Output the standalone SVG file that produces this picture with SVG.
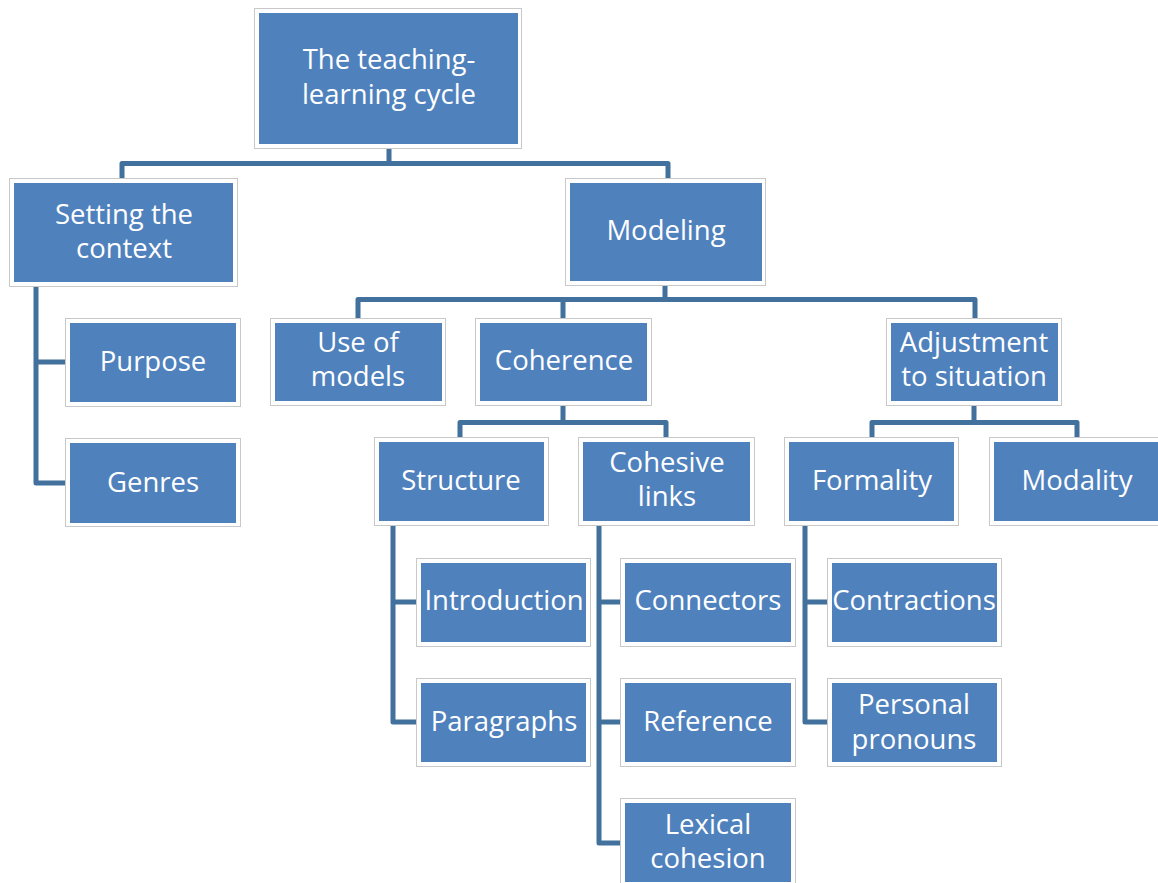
<svg xmlns="http://www.w3.org/2000/svg" width="1158" height="883" viewBox="0 0 1158 883">
  <style>
    .frame { fill: #ffffff; stroke: #c8c8c8; stroke-width: 1; }
    .fill { fill: #4f81bd; }
    .label { font-family: "Open Sans", "Noto Sans", sans-serif; font-size: 27.5px; fill: #ffffff; text-anchor: middle; }
    .link { fill: none; stroke: #41719c; stroke-width: 5; stroke-linejoin: round; }
  </style>
  <rect width="1158" height="883" fill="#ffffff"/>

  <!-- connectors -->
  <g id="connectors">
    <path class="link" d="M389 148 V163.5 H122 V178 M389 163.5 H668 V178"/>
    <path class="link" d="M36 287 V483 H66 M36 362 H66"/>
    <path class="link" d="M665 285 V299.5 H358 V318 M665 299.5 H975 V318 M563 299.5 V318"/>
    <path class="link" d="M563 405 V422.5 H460 V437 M563 422.5 H666 V437"/>
    <path class="link" d="M974 405 V422.5 H872 V437 M974 422.5 H1077 V437"/>
    <path class="link" d="M393 525 V722 H417 M393 602 H417"/>
    <path class="link" d="M599 525 V843 H621 M599 602 H621 M599 722 H621"/>
    <path class="link" d="M805 525 V722 H828 M805 602 H828"/>
  </g>

  <g id="node-root">
    <rect class="frame" x="254.5" y="8.5" width="267" height="140"/>
    <rect class="fill" x="259" y="13" width="259" height="131"/>
    <text class="label" x="389" y="69">The teaching-</text>
    <text class="label" x="389" y="104">learning cycle</text>
  </g>

  <g id="node-setting-context">
    <rect class="frame" x="9.5" y="178.5" width="228" height="108"/>
    <rect class="fill" x="14" y="183" width="219" height="99"/>
    <text class="label" x="124" y="224">Setting the</text>
    <text class="label" x="124" y="258">context</text>
  </g>

  <g id="node-modeling">
    <rect class="frame" x="565.5" y="178.5" width="200" height="107"/>
    <rect class="fill" x="570" y="183" width="192" height="98"/>
    <text class="label" x="666" y="240">Modeling</text>
  </g>

  <g id="node-purpose">
    <rect class="frame" x="65.5" y="318.5" width="175" height="88"/>
    <rect class="fill" x="70" y="323" width="166" height="79"/>
    <text class="label" x="153" y="371">Purpose</text>
  </g>

  <g id="node-genres">
    <rect class="frame" x="65.5" y="438.5" width="175" height="88"/>
    <rect class="fill" x="70" y="443" width="166" height="80"/>
    <text class="label" x="153" y="492">Genres</text>
  </g>

  <g id="node-use-of-models">
    <rect class="frame" x="270.5" y="318.5" width="175" height="87"/>
    <rect class="fill" x="275" y="323" width="167" height="78"/>
    <text class="label" x="358" y="352">Use of</text>
    <text class="label" x="358" y="386">models</text>
  </g>

  <g id="node-coherence">
    <rect class="frame" x="475.5" y="318.5" width="176" height="87"/>
    <rect class="fill" x="480" y="323" width="167" height="78"/>
    <text class="label" x="564" y="370">Coherence</text>
  </g>

  <g id="node-adjustment">
    <rect class="frame" x="886.5" y="318.5" width="175" height="87"/>
    <rect class="fill" x="891" y="323" width="167" height="78"/>
    <text class="label" x="974" y="352">Adjustment</text>
    <text class="label" x="974" y="386">to situation</text>
  </g>

  <g id="node-structure">
    <rect class="frame" x="374.5" y="437.5" width="174" height="88"/>
    <rect class="fill" x="379" y="442" width="165" height="79"/>
    <text class="label" x="461" y="490">Structure</text>
  </g>

  <g id="node-cohesive-links">
    <rect class="frame" x="578.5" y="437.5" width="176" height="88"/>
    <rect class="fill" x="583" y="442" width="167" height="79"/>
    <text class="label" x="667" y="472">Cohesive</text>
    <text class="label" x="667" y="506">links</text>
  </g>

  <g id="node-formality">
    <rect class="frame" x="784.5" y="437.5" width="174" height="88"/>
    <rect class="fill" x="789" y="442" width="165" height="79"/>
    <text class="label" x="872" y="490">Formality</text>
  </g>

  <g id="node-modality">
    <rect class="frame" x="989.5" y="437.5" width="175" height="88"/>
    <rect class="fill" x="994" y="442" width="166" height="79"/>
    <text class="label" x="1077" y="490">Modality</text>
  </g>

  <g id="node-introduction">
    <rect class="frame" x="416.5" y="558.5" width="174" height="88"/>
    <rect class="fill" x="421" y="563" width="165" height="79"/>
    <text class="label" x="504" y="610">Introduction</text>
  </g>

  <g id="node-paragraphs">
    <rect class="frame" x="416.5" y="678.5" width="174" height="88"/>
    <rect class="fill" x="421" y="683" width="165" height="79"/>
    <text class="label" x="504" y="731">Paragraphs</text>
  </g>

  <g id="node-connectors">
    <rect class="frame" x="620.5" y="558.5" width="175" height="88"/>
    <rect class="fill" x="625" y="563" width="166" height="79"/>
    <text class="label" x="708" y="610">Connectors</text>
  </g>

  <g id="node-reference">
    <rect class="frame" x="620.5" y="678.5" width="175" height="88"/>
    <rect class="fill" x="625" y="683" width="166" height="79"/>
    <text class="label" x="708" y="731">Reference</text>
  </g>

  <g id="node-lexical-cohesion">
    <rect class="frame" x="620.5" y="798.5" width="175" height="88"/>
    <rect class="fill" x="625" y="803" width="166" height="79"/>
    <text class="label" x="708" y="834">Lexical</text>
    <text class="label" x="708" y="868">cohesion</text>
  </g>

  <g id="node-contractions">
    <rect class="frame" x="827.5" y="558.5" width="174" height="88"/>
    <rect class="fill" x="832" y="563" width="165" height="79"/>
    <text class="label" x="914" y="610">Contractions</text>
  </g>

  <g id="node-personal-pronouns">
    <rect class="frame" x="827.5" y="678.5" width="174" height="88"/>
    <rect class="fill" x="832" y="683" width="165" height="79"/>
    <text class="label" x="914" y="714">Personal</text>
    <text class="label" x="914" y="749">pronouns</text>
  </g>
</svg>
